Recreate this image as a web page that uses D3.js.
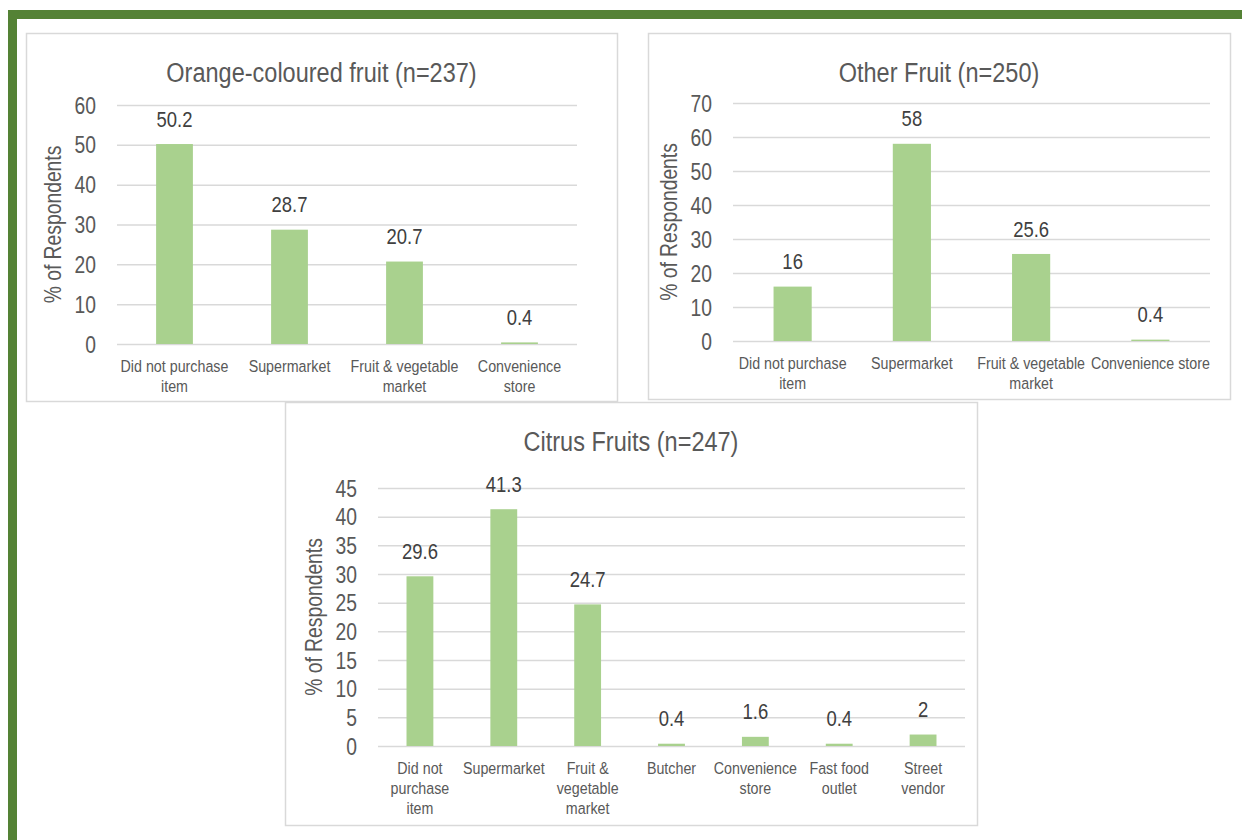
<!DOCTYPE html>
<html>
<head>
<meta charset="utf-8">
<script src="https://cdn.jsdelivr.net/npm/d3@7"></script>
<style>
  html, body { margin: 0; padding: 0; background: #ffffff; }
  svg { display: block; }
  text { font-family: 'Liberation Sans', Arial, sans-serif; }
</style>
</head>
<body>
<svg id="chart" width="1242" height="840"></svg>
<script>
// ---- data ----
const orangeTitle = "Orange-coloured fruit (n=237)";
const orangeCategories = ["Did not purchase\nitem", "Supermarket", "Fruit & vegetable\nmarket", "Convenience\nstore"];
const orangeValues = [50.2, 28.7, 20.7, 0.4];
const orangeTicks = [0, 10, 20, 30, 40, 50, 60];

const otherTitle = "Other Fruit (n=250)";
const otherCategories = ["Did not purchase\nitem", "Supermarket", "Fruit & vegetable\nmarket", "Convenience store"];
const otherValues = [16, 58, 25.6, 0.4];
const otherTicks = [0, 10, 20, 30, 40, 50, 60, 70];

const citrusTitle = "Citrus Fruits (n=247)";
const citrusCategories = ["Did not\npurchase\nitem", "Supermarket", "Fruit &\nvegetable\nmarket", "Butcher", "Convenience\nstore", "Fast food\noutlet", "Street\nvendor"];
const citrusValues = [29.6, 41.3, 24.7, 0.4, 1.6, 0.4, 2];
const citrusTicks = [0, 5, 10, 15, 20, 25, 30, 35, 40, 45];

const yAxisTitle = "% of Respondents";

// ---- layout ----
const svg = d3.select("#chart");
const frameGreen = "#548235";
const barColor = "#a9d18e";
const gridColor = "#d9d9d9";
const textColor = "#595959";
const labelColor = "#404040";
const narrow = 0.84; // horizontal squeeze giving a condensed typeface look

// outer green frame (top and left edges)
svg.append("rect").attr("x", 8).attr("y", 10).attr("width", 1234).attr("height", 9).attr("fill", frameGreen);
svg.append("rect").attr("x", 8).attr("y", 10).attr("width", 9).attr("height", 830).attr("fill", frameGreen);

const panels = [
  { title: orangeTitle, cats: orangeCategories, vals: orangeValues, ticks: orangeTicks,
    box: { x: 26, y: 33, w: 591, h: 368 }, plot: { x0: 117, x1: 577, yTop: 105, yBottom: 344 } },
  { title: otherTitle, cats: otherCategories, vals: otherValues, ticks: otherTicks,
    box: { x: 648, y: 33, w: 582, h: 366 }, plot: { x0: 733, x1: 1210, yTop: 103, yBottom: 341 } },
  { title: citrusTitle, cats: citrusCategories, vals: citrusValues, ticks: citrusTicks,
    box: { x: 285, y: 402, w: 692, h: 423 }, plot: { x0: 378, x1: 965, yTop: 488, yBottom: 746 } }
];

const place = (x, y, rot) => `translate(${x},${y})${rot ? ` rotate(${rot})` : ""} scale(${narrow},1)`;

panels.forEach(p => {
  const g = svg.append("g");

  // chart area border
  g.append("rect")
    .attr("x", p.box.x + 0.5).attr("y", p.box.y + 0.5)
    .attr("width", p.box.w).attr("height", p.box.h)
    .attr("fill", "#ffffff").attr("stroke", gridColor).attr("stroke-width", 1.5);

  // title
  g.append("text")
    .attr("transform", place(p.box.x + p.box.w / 2, p.box.y + 39))
    .attr("text-anchor", "middle").attr("dominant-baseline", "central")
    .attr("fill", textColor).attr("font-size", 28)
    .text(p.title);

  const x = d3.scaleBand()
    .domain(p.cats)
    .range([p.plot.x0, p.plot.x1])
    .paddingInner(0.68).paddingOuter(0.34);
  const y = d3.scaleLinear()
    .domain([0, d3.max(p.ticks)])
    .range([p.plot.yBottom, p.plot.yTop]);

  // gridlines + tick labels via a left axis
  const yAxis = d3.axisLeft(y)
    .tickValues(p.ticks)
    .tickSize(-(p.plot.x1 - p.plot.x0))
    .tickFormat(d3.format("d"));
  const ax = g.append("g")
    .attr("transform", `translate(${p.plot.x0},0)`)
    .call(yAxis);
  ax.select(".domain").remove();
  ax.selectAll(".tick line").attr("stroke", gridColor).attr("stroke-width", 1.5);
  ax.selectAll(".tick text")
    .attr("x", null).attr("dy", null)
    .attr("transform", place(-21, 0))
    .attr("dominant-baseline", "central")
    .attr("fill", textColor).attr("font-size", 23)
    .attr("font-family", null);

  // y axis title
  const cy = (p.plot.yTop + p.plot.yBottom) / 2;
  g.append("text")
    .attr("transform", `translate(${p.plot.x0 - 64},${cy}) rotate(-90) scale(${narrow},1)`)
    .attr("text-anchor", "middle").attr("dominant-baseline", "central")
    .attr("fill", textColor).attr("font-size", 23)
    .text(yAxisTitle);

  // bars
  const data = p.cats.map((c, i) => ({ cat: c, val: p.vals[i] }));
  g.selectAll("rect.bar").data(data).join("rect")
    .attr("class", "bar")
    .attr("x", d => x(d.cat)).attr("width", x.bandwidth())
    .attr("y", d => y(d.val)).attr("height", d => y(0) - y(d.val))
    .attr("fill", barColor);

  // value labels
  g.selectAll("text.val").data(data).join("text")
    .attr("class", "val")
    .attr("transform", d => place(x(d.cat) + x.bandwidth() / 2, y(d.val) - 25))
    .attr("text-anchor", "middle").attr("dominant-baseline", "central")
    .attr("fill", labelColor).attr("font-size", 22)
    .text(d => d.val);

  // category labels (multi-line)
  const cl = g.selectAll("text.cat").data(data).join("text")
    .attr("class", "cat")
    .attr("transform", d => place(x(d.cat) + x.bandwidth() / 2, p.plot.yBottom + 22))
    .attr("text-anchor", "middle")
    .attr("fill", textColor).attr("font-size", 17);
  cl.each(function (d) {
    const t = d3.select(this);
    d.cat.split("\n").forEach((line, i) => {
      t.append("tspan")
        .attr("x", 0)
        .attr("y", i * 20)
        .attr("dominant-baseline", "central")
        .text(line);
    });
  });
});
</script>
</body>
</html>
